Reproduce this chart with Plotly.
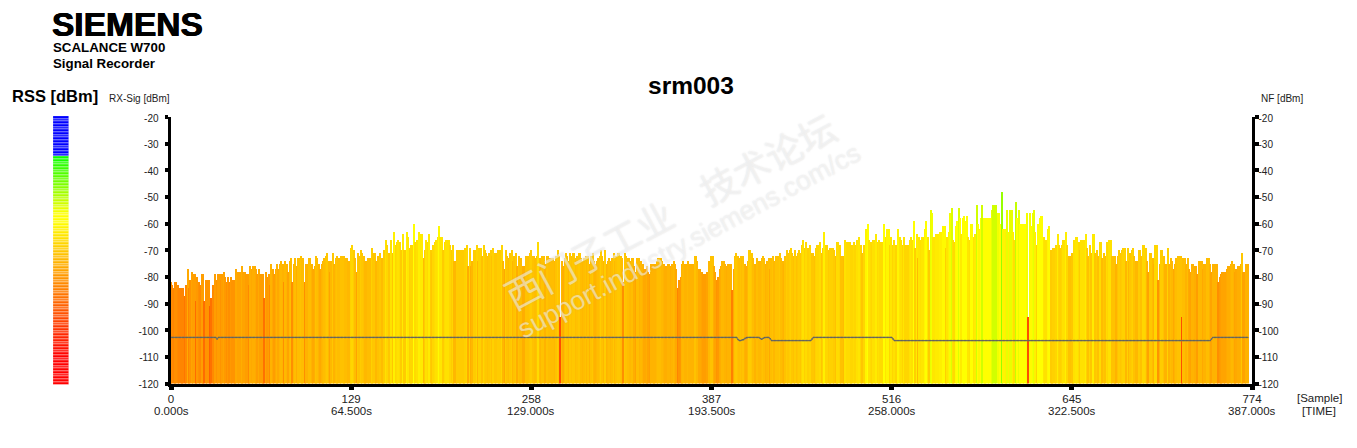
#!/usr/bin/env python3
"""SCALANCE W700 signal recorder chart (srm003)."""

import numpy as np
import plotly.graph_objects as go

WIDTH = 1357
HEIGHT = 448
FONT = "Liberation Sans, Arial, sans-serif"

# RX signal per sample, dBm
rx_sig = [
    -82, -83, -84, -82, -82, -83, -84, -84, -84, -84, -87, -83, -77, -84, -81, -78, -79, -79, -89, -80,
    -82, -83, -79, -79, -89, -81, -81, -81, -91, -88, -83, -83, -79, -81, -79, -79, -81, -79, -78, -80,
    -82, -80, -82, -80, -81, -81, -81, -77, -78, -78, -78, -76, -78, -78, -79, -79, -83, -76, -77, -76,
    -76, -77, -79, -77, -79, -79, -79, -88, -78, -80, -79, -83, -75, -77, -79, -77, -75, -77, -75, -74,
    -75, -82, -74, -75, -78, -74, -73, -82, -75, -73, -76, -73, -73, -72, -73, -73, -82, -75, -75, -73,
    -73, -75, -77, -76, -72, -73, -75, -77, -75, -74, -73, -72, -71, -74, -78, -74, -71, -75, -73, -72,
    -73, -73, -72, -72, -72, -73, -73, -74, -74, -69, -68, -70, -73, -78, -71, -72, -70, -71, -72, -74,
    -74, -73, -73, -73, -69, -71, -71, -74, -72, -72, -71, -73, -73, -70, -66, -68, -71, -71, -66, -71,
    -63, -68, -67, -66, -67, -70, -64, -70, -70, -63, -65, -69, -68, -68, -60, -67, -66, -66, -63, -64,
    -64, -73, -70, -66, -67, -64, -70, -71, -68, -67, -66, -65, -61, -65, -65, -70, -67, -66, -66, -66,
    -68, -70, -68, -74, -74, -70, -70, -70, -70, -70, -70, -69, -68, -76, -69, -76, -74, -70, -70, -68,
    -74, -69, -69, -72, -68, -70, -71, -72, -71, -70, -72, -69, -71, -71, -70, -70, -70, -68, -74, -77,
    -70, -72, -73, -71, -70, -74, -72, -71, -76, -72, -73, -73, -76, -76, -72, -72, -72, -71, -70, -72,
    -72, -73, -72, -67, -73, -74, -72, -72, -75, -72, -72, -73, -73, -73, -73, -74, -72, -70, -72, -95,
    -74, -76, -73, -71, -72, -74, -71, -72, -71, -71, -73, -72, -71, -71, -73, -74, -73, -72, -74, -72,
    -75, -72, -71, -74, -75, -74, -73, -72, -70, -72, -74, -70, -75, -74, -73, -74, -73, -71, -74, -72,
    -71, -71, -72, -73, -82, -71, -72, -73, -73, -74, -73, -73, -76, -78, -73, -73, -75, -74, -75, -77,
    -77, -76, -78, -79, -75, -75, -75, -75, -74, -73, -73, -73, -74, -75, -76, -76, -75, -75, -76, -75,
    -74, -75, -77, -84, -81, -80, -75, -74, -75, -75, -74, -75, -75, -75, -75, -72, -72, -74, -77, -77,
    -78, -79, -79, -79, -78, -74, -74, -72, -72, -76, -78, -81, -80, -77, -76, -74, -74, -75, -76, -75,
    -75, -75, -85, -77, -72, -71, -72, -73, -72, -73, -72, -75, -76, -74, -70, -70, -71, -73, -75, -75,
    -73, -74, -74, -73, -72, -73, -75, -74, -73, -77, -73, -72, -74, -72, -72, -72, -71, -73, -74, -75,
    -72, -70, -71, -70, -69, -71, -72, -70, -72, -71, -70, -71, -68, -66, -69, -67, -69, -69, -68, -71,
    -71, -72, -69, -68, -68, -67, -71, -69, -63, -68, -68, -70, -69, -69, -69, -70, -72, -67, -67, -68,
    -72, -72, -73, -66, -67, -67, -67, -68, -68, -67, -68, -66, -66, -65, -68, -71, -68, -68, -62, -60,
    -66, -67, -68, -66, -66, -64, -67, -66, -67, -67, -67, -60, -65, -62, -62, -68, -65, -68, -66, -68,
    -68, -62, -65, -66, -68, -65, -68, -68, -68, -66, -65, -66, -59, -69, -64, -73, -65, -66, -65, -65,
    -62, -59, -65, -70, -55, -56, -65, -65, -64, -64, -64, -63, -63, -61, -61, -69, -65, -63, -56, -54,
    -66, -67, -61, -59, -54, -58, -64, -58, -57, -59, -57, -65, -66, -60, -60, -65, -64, -53, -60, -62,
    -58, -53, -58, -58, -58, -58, -58, -58, -55, -53, -53, -53, -56, -56, -60, -48, -62, -62, -63, -55,
    -63, -55, -55, -63, -66, -52, -58, -55, -60, -60, -60, -60, -60, -56, -95, -56, -61, -56, -55, -63,
    -68, -60, -58, -57, -57, -65, -66, -66, -62, -61, -70, -70, -69, -69, -68, -64, -68, -69, -68, -66,
    -66, -63, -68, -72, -72, -71, -71, -66, -65, -65, -67, -70, -66, -66, -66, -64, -69, -72, -68, -71,
    -64, -64, -71, -70, -72, -67, -67, -73, -71, -72, -67, -68, -66, -66, -72, -72, -72, -75, -72, -70,
    -71, -70, -69, -69, -74, -69, -74, -71, -70, -69, -72, -74, -74, -70, -70, -72, -68, -68, -69, -74,
    -78, -71, -71, -73, -75, -68, -68, -81, -75, -70, -70, -72, -75, -75, -69, -75, -73, -74, -77, -75,
    -73, -72, -72, -72, -95, -73, -73, -75, -73, -77, -78, -75, -75, -76, -76, -79, -74, -74, -74, -77,
    -75, -75, -73, -73, -75, -78, -75, -75, -75, -75, -82, -80, -79, -78, -78, -78, -77, -76, -76, -75,
    -74, -75, -78, -77, -76, -76, -75, -71, -78, -78, -75, -75,
]

# noise floor, dBm, as level + number of samples it holds
nf_levels = [-102.7, -103.3, -102.7, -103.5, -103.9, -103.6, -103.0, -102.7, -103.1, -103.4,
             -103.0, -102.7, -103.2, -103.9, -103.3, -102.7, -103.3, -103.9, -103.3, -102.7]
nf_counts = [33, 1, 372, 1, 2, 2, 1, 10, 1, 1, 1, 4, 1, 29, 1, 57, 1, 227, 1, 26]

db_ticks = [-20, -30, -40, -50, -60, -70, -80, -90, -100, -110, -120]
sample_ticks = [0, 129, 258, 387, 516, 645, 774]
time_labels = ["0.000s", "64.500s", "129.000s", "193.500s", "258.000s", "322.500s", "387.000s"]

# RSS colour key
key_levels = list(range(-120, -20))
stop_db = [-120, -110, -85, -60, -57, -35]
stop_r = [255, 255, 255, 255, 255, 0]
stop_g = [0, 0, 128, 255, 255, 255]


def rss_color(db):
    """RSS value to key colour"""
    if db >= -35:
        return "rgb(0,0,255)"
    return f"rgb({np.interp(db, stop_db, stop_r):.0f},{np.interp(db, stop_db, stop_g):.0f},0)"


def px_x(x):
    return x / WIDTH


def px_y(y):
    return 1 - y / HEIGHT


samples = list(range(len(rx_sig)))
noise_floor = [lvl for lvl, n in zip(nf_levels, nf_counts) for _ in range(n)]

fig = go.Figure()

fig.add_trace(
    go.Bar(
        x=samples,
        y=[v + 120 for v in rx_sig],
        base=-120,
        width=1,
        marker=dict(color=[rss_color(v) for v in rx_sig], line=dict(width=0)),
    )
)

fig.add_trace(
    go.Scatter(
        x=samples,
        y=noise_floor,
        yaxis="y2",
        mode="lines+markers",
        line=dict(color="rgb(125,125,110)", width=1.2),
        marker=dict(color="rgb(100,100,90)", size=1.5),
    )
)

fig.add_trace(
    go.Bar(
        x=[1] * len(key_levels),
        y=[lvl + 0.5 for lvl in key_levels],
        orientation="h",
        width=1,
        xaxis="x3",
        yaxis="y3",
        marker=dict(
            color=[rss_color(lvl) for lvl in key_levels],
            line=dict(color="rgba(255,255,255,0.7)", width=0.5),
        ),
    )
)

plot_domain_y = [px_y(383.5), px_y(117)]
tick_font = dict(family=FONT, size=10, color="#222222")
y_axis = dict(
    range=[-120, -20],
    domain=plot_domain_y,
    tickvals=db_ticks,
    ticktext=[str(v) for v in db_ticks],
    tickfont=tick_font,
    ticklabelshift=1,
    ticklabelstandoff=4,
    showgrid=False,
    zeroline=False,
    showline=True,
    linecolor="black",
    linewidth=3,
    ticks="outside",
    ticklen=3.5,
    tickwidth=4,
    tickcolor="black",
)

fig.update_layout(
    width=WIDTH,
    height=HEIGHT,
    margin=dict(l=0, r=0, t=0, b=0, autoexpand=False),
    autosize=False,
    showlegend=False,
    plot_bgcolor="white",
    paper_bgcolor="white",
    bargap=0,
    font=dict(family=FONT),
    xaxis=dict(
        range=[0, 774],
        domain=[px_x(171), px_x(1252)],
        tickvals=sample_ticks,
        tickangle=0,
        tickfont=dict(family=FONT, size=11.5, color="#222222"),
        showgrid=False,
        zeroline=False,
        showline=True,
        linecolor="black",
        linewidth=3,
        ticks="outside",
        ticklen=3,
        tickwidth=4.5,
        tickcolor="black",
    ),
    yaxis=y_axis,
    yaxis2=dict(y_axis, overlaying="y", side="right", anchor="x", ticklabelstandoff=-2),
    xaxis3=dict(domain=[px_x(53), px_x(69)], range=[0, 1], visible=False, anchor="y3"),
    yaxis3=dict(domain=[px_y(384.5), px_y(116)], range=[-120, -20], visible=False, anchor="x3"),
)


def label(text, x, y, size, bold=False, anchor="left", color="black", shadow=None):
    fig.add_annotation(
        text=f"<b>{text}</b>" if bold else text,
        x=px_x(x),
        y=px_y(y),
        xref="paper",
        yref="paper",
        xanchor=anchor,
        yanchor="middle",
        showarrow=False,
        font=dict(family=FONT, size=size, color=color, shadow=shadow),
    )


label("SIEMENS", 50, 24, 33.5, bold=True, shadow="0.5px 0 0 black, -0.5px 0 0 black")
label("SCALANCE W700", 50.5, 47, 13.3, bold=True)
label("Signal Recorder", 50.5, 64, 13.3, bold=True)
label("RSS [dBm]", 10, 96, 16.5, bold=True)
label("srm003", 691, 85.5, 24.5, bold=True, anchor="center")
label("RX-Sig [dBm]", 107, 98, 10, color="#222222")
label("NF [dBm]", 1259, 98.5, 10, color="#222222")
label("[Sample]", 1319, 398, 11.5, anchor="center", color="#222222")
label("[TIME]", 1319, 411, 11.5, anchor="center", color="#222222")

# time labels sit close under the sample labels, tighter than a <br> in a tick label
for sample, text in zip(sample_ticks, time_labels):
    fig.add_annotation(
        text=text,
        x=sample,
        y=px_y(411),
        xref="x",
        yref="paper",
        yanchor="middle",
        showarrow=False,
        font=dict(family=FONT, size=11.5, color="#222222"),
    )

# watermark across the plot
watermark_color = "rgba(255,255,255,0.5)"
watermark_shadow = "0 0 1.5px rgba(150,150,150,0.6)"
for text, x, y, family, size in [
    ("西门子工业", 588, 254, "Noto Sans CJK SC", 37),
    ("技术论坛", 767, 158, "Noto Sans CJK SC", 37),
    ("support.industry.siemens.com/cs", 689, 241, FONT, 26.5),
]:
    fig.add_annotation(
        text=text,
        x=px_x(x),
        y=px_y(y),
        xref="paper",
        yref="paper",
        showarrow=False,
        textangle=-28,
        font=dict(family=family, size=size, color=watermark_color, shadow=watermark_shadow),
    )

# drop the default body margin so the figure fills the window
fig.write_html(
    "out.html",
    config={"displayModeBar": False},
    post_script="document.body.style.margin = '0';",
)
